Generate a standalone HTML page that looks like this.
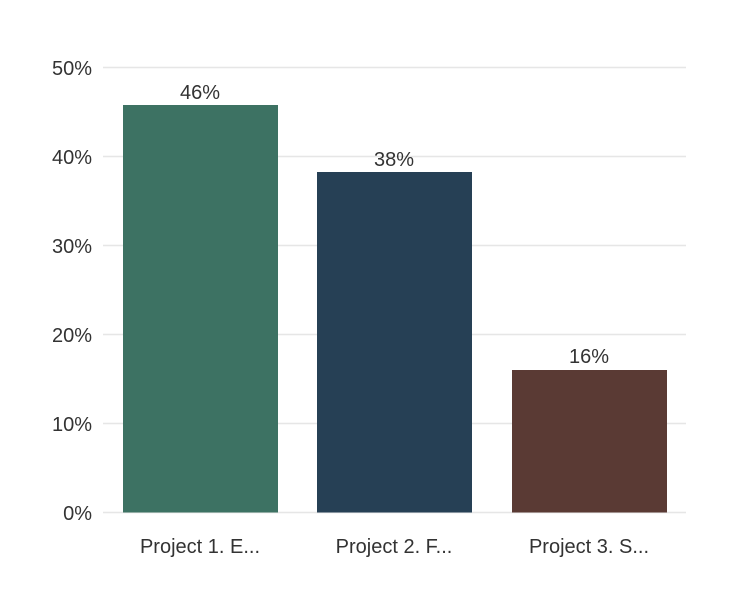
<!DOCTYPE html>
<html><head><meta charset="utf-8"><style>html,body{margin:0;padding:0;background:#fff}</style></head>
<body>
<svg width="740" height="598" xmlns="http://www.w3.org/2000/svg" font-family="Liberation Sans, Arial, sans-serif" font-size="20" fill="#333">
<g stroke="#e6e6e6" stroke-width="1.5">
<line x1="103" x2="686" y1="67.5" y2="67.5"/>
<line x1="103" x2="686" y1="156.5" y2="156.5"/>
<line x1="103" x2="686" y1="245.5" y2="245.5"/>
<line x1="103" x2="686" y1="334.5" y2="334.5"/>
<line x1="103" x2="686" y1="423.5" y2="423.5"/>
<line x1="103" x2="686" y1="512.5" y2="512.5"/>
</g>
<g text-anchor="end">
<text x="92" y="75">50%</text>
<text x="92" y="164">40%</text>
<text x="92" y="253">30%</text>
<text x="92" y="342">20%</text>
<text x="92" y="431">10%</text>
<text x="92" y="520">0%</text>
</g>
<rect x="123" y="105" width="155" height="407.5" fill="#3d7263"/>
<rect x="317" y="172" width="155" height="340.5" fill="#264055"/>
<rect x="512" y="370" width="155" height="142.5" fill="#5a3a34"/>
<g text-anchor="middle">
<text x="200" y="99">46%</text>
<text x="394" y="166">38%</text>
<text x="589" y="363">16%</text>
<text x="200" y="553">Project 1. E...</text>
<text x="394" y="553">Project 2. F...</text>
<text x="589" y="553">Project 3. S...</text>
</g>
</svg>
</body></html>
